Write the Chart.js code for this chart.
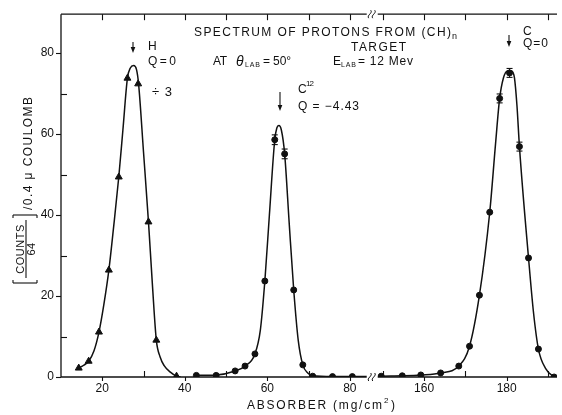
<!DOCTYPE html>
<html><head><meta charset="utf-8">
<script src="https://cdn.jsdelivr.net/npm/chart.js@4/dist/chart.umd.min.js"></script>
<style>html,body{margin:0;padding:0;background:#fff}#wrap{width:562px;height:415px;position:relative}</style>
</head><body><div id="wrap"><canvas id="c" width="562" height="415"></canvas></div>
<script>
// ---- axis break: the right-hand segment (145-195 mg/cm2) is drawn shifted left by BREAK_OFFSET
const BREAK_OFFSET = 62;
const BREAK_AT = 85.3;             // where the axis is broken (left-segment units)
const xTickValues = [20, 30, 40, 50, 60, 70, 80, 150, 160, 170, 180, 190];
const xTickLabels = ['20', '40', '60', '80', '160', '180'];
const yTickValues = [0, 10, 20, 30, 40, 50, 60, 70, 80];
const yTickLabels = ['0', '20', '40', '60', '80'];

// ---- H peak (triangles, divided by 3)
const hX = [14.3, 16.7, 19.2, 21.6, 24.0, 26.1, 28.7, 31.2, 33.1, 38.0];
const hY = [2.2, 3.9, 11.1, 26.4, 49.4, 73.8, 72.4, 38.3, 9.1, 0.2];
const hCurveX = [14.3, 15.5, 16.7, 18.0, 19.2, 20.4, 21.6, 22.8, 24.0, 25.0, 26.1, 26.8, 27.6, 28.3, 28.8, 30.0, 31.2, 32.2, 33.1, 34.0, 35.0, 36.5, 38.0, 39.0];
const hCurveY = [2.2, 2.9, 3.9, 6.5, 11.1, 18.0, 26.4, 37.5, 49.4, 61.0, 73.8, 76.3, 76.9, 75.9, 72.4, 55.5, 38.3, 22.0, 9.1, 5.0, 2.8, 1.2, 0.2, 0.0];

// ---- C12 peak (circles), Q = -4.43
const c12X = [42.8, 47.6, 52.2, 54.6, 57.0, 59.4, 61.8, 64.2, 66.4, 68.6, 71.0, 75.8, 80.6];
const c12Y = [0.4, 0.4, 1.5, 2.7, 5.7, 23.7, 58.6, 55.1, 21.5, 3.0, 0.2, 0.1, 0.1];
const c12Err = [0, 0, 0, 0, 0, 0, 1.2, 1.2, 0, 0, 0, 0, 0];
const c12CurveX = [42.8, 47.6, 52.2, 54.6, 57.0, 58.3, 59.4, 60.5, 61.8, 62.3, 62.8, 63.4, 64.2, 65.3, 66.4, 67.5, 68.6, 69.8, 71.0, 75.8, 80.6, 85.3];
const c12CurveY = [0.4, 0.5, 1.5, 2.7, 5.7, 11.5, 23.7, 40.0, 58.6, 61.5, 62.1, 61.0, 55.1, 38.0, 21.5, 9.0, 3.0, 1.0, 0.3, 0.1, 0.1, 0.1];

// ---- C peak (circles), Q = 0
const cX = [149.6, 154.7, 159.2, 164.0, 168.4, 171.0, 173.4, 175.9, 178.3, 180.7, 183.1, 185.3, 187.7, 191.5];
const cY = [0.2, 0.3, 0.5, 1.0, 2.7, 7.6, 20.2, 40.7, 68.8, 75.1, 56.9, 29.4, 6.9, 0.0];
const cErr = [0, 0, 0, 0, 0, 0, 0, 0, 1.1, 1.1, 1.1, 0, 0, 0];
const cCurveX = [146.8, 149.6, 154.7, 159.2, 164.0, 168.4, 171.0, 173.4, 175.9, 177.3, 178.3, 179.2, 180.2, 181.2, 181.9, 182.5, 183.1, 185.3, 186.5, 187.7, 189.5, 191.5];
const cCurveY = [0.1, 0.2, 0.3, 0.5, 1.0, 2.7, 7.6, 20.2, 40.7, 57.5, 68.8, 73.8, 75.6, 75.6, 73.8, 67.0, 56.9, 29.4, 16.0, 6.9, 2.0, 0.0];

const toPlot = v => (v > 100 ? v - BREAK_OFFSET : v);
const fromPlot = v => (v > BREAK_AT ? v + BREAK_OFFSET : v);
const pts = (xs, ys) => xs.map((x, i) => ({x: toPlot(x), y: ys[i]}));

const INK = '#111';
const FONT = "'Liberation Sans', 'DejaVu Sans', sans-serif";

function seg(ctx, x1, y1, x2, y2) { ctx.beginPath(); ctx.moveTo(x1, y1); ctx.lineTo(x2, y2); ctx.stroke(); }
function txt(ctx, s, x, y, size, width, style) {
  ctx.font = (style || '') + ' ' + size + 'px ' + FONT;
  ctx.textBaseline = 'middle'; ctx.textAlign = 'left';
  let ls = 0;
  const w = ctx.measureText(s).width;
  if (width && s.length > 1) ls = (width - w) / (s.length - 1);
  ctx.letterSpacing = ls + 'px';
  ctx.fillText(s, x, y);
  ctx.letterSpacing = '0px';
  return x + w + ls * s.length;
}
function arrow(ctx, x, y1, y2) {
  seg(ctx, x, y1, x, y2 - 3);
  ctx.beginPath(); ctx.moveTo(x - 2.3, y2 - 6); ctx.lineTo(x + 2.3, y2 - 6); ctx.lineTo(x, y2); ctx.closePath(); ctx.fill();
}
function squiggle(ctx, bx, by) {
  ctx.fillStyle = '#fff'; ctx.fillRect(bx - 5, by - 2, 11, 4); ctx.fillStyle = INK;
  ctx.lineWidth = 1;
  [-2, 2].forEach(dx => {
    const cx = bx + dx;
    ctx.beginPath(); ctx.moveTo(cx - 1, by + 4);
    ctx.bezierCurveTo(cx - 3.5, by + 1, cx + 3.5, by - 1, cx + 1, by - 4); ctx.stroke();
  });
}

const decor = {
  id: 'decor',
  afterDatasetsDraw(chart) {
    const {ctx, scales: {x, y}} = chart;
    ctx.save(); ctx.strokeStyle = INK; ctx.lineWidth = 1.1;
    chart.data.datasets.forEach(ds => {
      if (!ds.errors) return;
      ds.data.forEach((p, i) => {
        const e = ds.errors[i]; if (!e) return;
        const px = x.getPixelForValue(p.x);
        const y1 = y.getPixelForValue(p.y + e), y2 = y.getPixelForValue(p.y - e);
        seg(ctx, px, y1, px, y2); seg(ctx, px - 3, y1, px + 3, y1); seg(ctx, px - 3, y2, px + 3, y2);
      });
    });
    ctx.restore();
  },
  afterDraw(chart) {
    const {ctx, chartArea: {left, right, top, bottom}, scales: {x, y}} = chart;
    ctx.save();
    ctx.strokeStyle = INK; ctx.fillStyle = INK; ctx.lineWidth = 1.3;
    seg(ctx, left, top, right, top);
    seg(ctx, left, top, left, bottom);
    seg(ctx, left, bottom, right, bottom);
    ctx.lineWidth = 1.1;
    xTickValues.forEach(v => {
      const px = Math.round(x.getPixelForValue(toPlot(v))) + 0.5;
      if (xTickLabels.includes(String(v))) seg(ctx, px, bottom, px, bottom + 4);
      else seg(ctx, px, bottom, px, bottom - 6);
      seg(ctx, px, top, px, top + 6);
    });
    yTickValues.forEach(v => {
      const py = Math.round(y.getPixelForValue(v)) + 0.5;
      if (yTickLabels.includes(String(v))) seg(ctx, left - 5, py, left, py);
      else seg(ctx, left, py, left + 6, py);
    });
    const bx = x.getPixelForValue(BREAK_AT);
    squiggle(ctx, bx, bottom); squiggle(ctx, bx, top);

    ctx.fillStyle = INK; ctx.strokeStyle = INK; ctx.lineWidth = 1.1;
    // title block
    txt(ctx, 'SPECTRUM OF PROTONS FROM (CH)', 194, 33, 12, 257);
    txt(ctx, 'n', 452, 37, 9);
    txt(ctx, 'TARGET', 351, 48, 12, 55);
    txt(ctx, 'AT', 213, 62, 12, 14);
    txt(ctx, 'θ', 236, 62, 14, 0, 'italic');
    txt(ctx, 'LAB', 245, 65, 7, 15);
    txt(ctx, '= 50°', 263, 62, 12, 28);
    txt(ctx, 'E', 333, 62, 12);
    txt(ctx, 'LAB', 341, 65, 7, 15);
    txt(ctx, '= 12 Mev', 358, 62, 12, 55);
    // H
    arrow(ctx, 133, 42, 53);
    txt(ctx, 'H', 148, 47, 12);
    txt(ctx, 'Q=0', 148, 62, 12, 28);
    txt(ctx, '÷ 3', 152, 92, 13, 20);
    // C12
    arrow(ctx, 280, 92, 111);
    txt(ctx, 'C', 298, 90, 12);
    txt(ctx, '12', 306, 84, 8, 8);
    txt(ctx, 'Q = −4.43', 298, 107, 12, 61);
    // C
    arrow(ctx, 509, 35, 47);
    txt(ctx, 'C', 523, 32, 12);
    txt(ctx, 'Q=0', 523, 44, 12, 25);
    // x title
    txt(ctx, 'ABSORBER (mg/cm', 247, 406, 12, 135);
    txt(ctx, '2', 384, 401, 8);
    txt(ctx, ')', 391, 406, 12);
    // y title (rotated, reads bottom to top)
    ctx.save();
    ctx.rotate(-Math.PI / 2);
    ctx.lineWidth = 1.1;
    const bTop = 215, bBot = 283, bL = 13, bR = 37;
    seg(ctx, -bBot, bL, -bBot, bR); seg(ctx, -bBot, bL, -bBot + 3, bL); seg(ctx, -bBot, bR, -bBot + 3, bR);
    seg(ctx, -bTop, bL, -bTop, bR); seg(ctx, -bTop, bL, -bTop - 3, bL); seg(ctx, -bTop, bR, -bTop - 3, bR);
    seg(ctx, -278, 26, -220, 26);
    ctx.textAlign = 'center';
    ctx.font = '11px ' + FONT; ctx.textBaseline = 'middle';
    ctx.letterSpacing = '0.5px';
    ctx.fillText('COUNTS', -249, 20.5);
    ctx.fillText('64', -249, 31.5);
    ctx.letterSpacing = '0px';
    txt(ctx, '/0.4 μ COULOMB', -210, 29, 12, 113);
    ctx.restore();
    ctx.restore();
  }
};

const common = {showLine: false, borderColor: INK, backgroundColor: INK};
new Chart(document.getElementById('c'), {
  type: 'scatter',
  data: {
    datasets: [
      {data: pts(hCurveX, hCurveY), showLine: true, pointRadius: 0, borderColor: INK, borderWidth: 1.5, cubicInterpolationMode: 'monotone'},
      {data: pts(c12CurveX, c12CurveY), showLine: true, pointRadius: 0, borderColor: INK, borderWidth: 1.5, cubicInterpolationMode: 'monotone'},
      {data: pts(cCurveX, cCurveY), showLine: true, pointRadius: 0, borderColor: INK, borderWidth: 1.5, cubicInterpolationMode: 'monotone'},
      Object.assign({data: pts(hX, hY), pointStyle: 'triangle', pointRadius: 4}, common),
      Object.assign({data: pts(c12X, c12Y), errors: c12Err, pointStyle: 'circle', pointRadius: 3}, common),
      Object.assign({data: pts(cX, cY), errors: cErr, pointStyle: 'circle', pointRadius: 3}, common)
    ]
  },
  options: {
    responsive: false, animation: false, devicePixelRatio: 1,
    layout: {padding: {top: 14, right: 2, left: 0, bottom: 0}},
    plugins: {legend: {display: false}, tooltip: {enabled: false}},
    scales: {
      x: {
        type: 'linear', min: 10, max: 130.2,
        afterBuildTicks: a => { a.ticks = xTickValues.map(v => ({value: toPlot(v)})); },
        afterFit: a => { a.height = 38; },
        grid: {display: false, drawTicks: false}, border: {display: false},
        ticks: {autoSkip: false, maxRotation: 0, padding: 4, color: INK, font: {family: FONT, size: 12},
          callback: v => { const r = String(Math.round(fromPlot(v))); return xTickLabels.includes(r) ? r : ''; }}
      },
      y: {
        min: 0, max: 89.6,
        afterBuildTicks: a => { a.ticks = yTickValues.map(v => ({value: v})); },
        afterFit: a => { a.width = 61; },
        grid: {display: false, drawTicks: false}, border: {display: false},
        ticks: {padding: 7, color: INK, font: {family: FONT, size: 12},
          callback: v => (yTickLabels.includes(String(v)) ? String(v) : '')}
      }
    }
  },
  plugins: [decor]
});
</script></body></html>
